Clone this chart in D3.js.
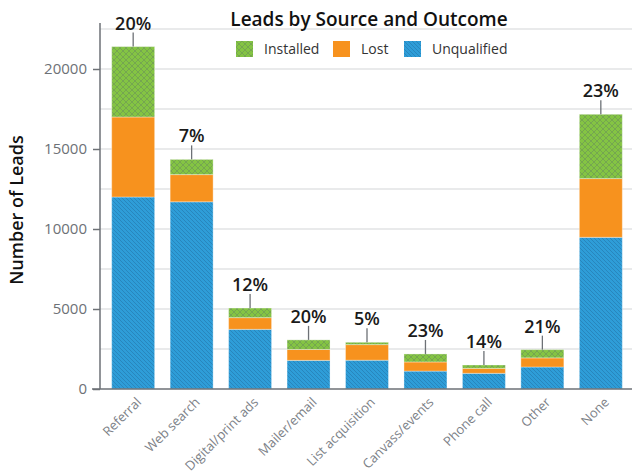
<!DOCTYPE html>
<html>
<head>
<meta charset="utf-8">
<script src="https://cdn.jsdelivr.net/npm/d3@7"></script>
<style>
  body { margin: 0; background: #fff; }
  svg { display: block; font-family: 'Open Sans', sans-serif; }
</style>
</head>
<body>
<svg id="chart" width="635" height="473"></svg>
<script>
const categories = ['Referral', 'Web search', 'Digital/print ads', 'Mailer/email', 'List acquisition', 'Canvass/events', 'Phone call', 'Other', 'None']
const unqualified = [12000, 11700, 3730, 1790, 1800, 1120, 980, 1375, 9480]
const lost = [5000, 1700, 730, 680, 975, 570, 310, 570, 3670]
const installed = [4400, 950, 600, 600, 145, 500, 210, 515, 4020]
const pctLabels = ['20%', '7%', '12%', '20%', '5%', '23%', '14%', '21%', '23%']
const yTicks = [0, 5000, 10000, 15000, 20000]
const gridTicks = [2500, 5000, 7500, 10000, 12500, 15000, 17500, 20000, 22500]

const seriesKeys = ['unqualified', 'lost', 'installed']
const legendItems = [
  { key: 'installed', label: 'Installed' },
  { key: 'lost', label: 'Lost' },
  { key: 'unqualified', label: 'Unqualified' }
]

const rows = categories.map((c, i) => ({
  category: c,
  unqualified: unqualified[i],
  lost: lost[i],
  installed: installed[i],
  pct: pctLabels[i]
}))

const svg = d3.select('#chart')

// パターン定義
const defs = svg.append('defs')
const pGreen = defs.append('pattern')
  .attr('id', 'pat-installed')
  .attr('patternUnits', 'userSpaceOnUse')
  .attr('width', 6).attr('height', 6)
pGreen.append('rect').attr('width', 6).attr('height', 6).attr('fill', '#84c443')
pGreen.append('path')
  .attr('d', 'M0,0L6,6M6,0L0,6')
  .attr('stroke', '#6f9a55').attr('stroke-width', 0.9).attr('stroke-opacity', 0.8)

const pBlue = defs.append('pattern')
  .attr('id', 'pat-unqualified')
  .attr('patternUnits', 'userSpaceOnUse')
  .attr('width', 4).attr('height', 4)
pBlue.append('rect').attr('width', 4).attr('height', 4).attr('fill', '#2e9dd8')
pBlue.append('path')
  .attr('d', 'M-1,-1L5,5M-1,3L1,5M3,-1L5,1')
  .attr('stroke', '#2886bd').attr('stroke-width', 1)

const FILLS = {
  installed: 'url(#pat-installed)',
  lost: '#f7921e',
  unqualified: 'url(#pat-unqualified)'
}

const x = d3.scaleBand()
  .domain(categories)
  .range([100, 634])
  .paddingInner(0.265)
  .paddingOuter(0.2)

const y = d3.scaleLinear()
  .domain([0, 20000])
  .range([389, 69])

// グリッド線
svg.append('g')
  .selectAll('line')
  .data(gridTicks)
  .enter()
  .append('line')
  .attr('x1', 100).attr('x2', 632)
  .attr('y1', d => y(d)).attr('y2', d => y(d))
  .attr('stroke', '#e2e3e5')
  .attr('stroke-width', 1.3)

// 積み上げ棒
const stacked = d3.stack().keys(seriesKeys)(rows)
svg.append('g')
  .selectAll('g')
  .data(stacked)
  .enter()
  .append('g')
  .attr('fill', d => FILLS[d.key])
  .selectAll('rect')
  .data(d => d)
  .enter()
  .append('rect')
  .attr('x', d => x(d.data.category))
  .attr('width', x.bandwidth())
  .attr('y', d => y(d[1]))
  .attr('height', d => y(d[0]) - y(d[1]))
  .attr('stroke', 'rgba(255,255,255,0.35)')
  .attr('stroke-width', 1)

// Y軸
const yAxis = svg.append('g')
  .attr('transform', 'translate(100,0)')
  .call(d3.axisLeft(y).tickValues(yTicks).tickFormat(d3.format('d')).tickSize(7).tickPadding(6).tickSizeOuter(0))
yAxis.select('.domain').remove()
yAxis.selectAll('line').attr('stroke', '#6d7176').attr('stroke-width', 1.5)
yAxis.selectAll('text')
  .attr('font-size', 15)
  .attr('fill', '#6d7176')
  .attr('font-family', "'Open Sans', sans-serif")

svg.append('line')
  .attr('x1', 100).attr('x2', 100)
  .attr('y1', 23).attr('y2', 389)
  .attr('stroke', '#6d7176').attr('stroke-width', 1.5)

// X軸
svg.append('line')
  .attr('x1', 92).attr('x2', 632)
  .attr('y1', 389).attr('y2', 389)
  .attr('stroke', '#6d7176').attr('stroke-width', 1.5)

svg.append('g')
  .selectAll('text')
  .data(categories)
  .enter()
  .append('text')
  .attr('transform', d => `translate(${x(d) + x.bandwidth() / 2 + 9},${403}) rotate(-45)`)
  .attr('text-anchor', 'end')
  .attr('font-size', 13)
  .attr('fill', '#7c8187')
  .text(d => d)

// パーセントラベル
const totals = rows.map(r => ({ category: r.category, total: r.unqualified + r.lost + r.installed, pct: r.pct }))
const lbl = svg.append('g').selectAll('g').data(totals).enter().append('g')
lbl.append('line')
  .attr('x1', d => x(d.category) + x.bandwidth() / 2)
  .attr('x2', d => x(d.category) + x.bandwidth() / 2)
  .attr('y1', d => y(d.total) - 14)
  .attr('y2', d => y(d.total))
  .attr('stroke', '#6d7176').attr('stroke-width', 1.3)
lbl.append('text')
  .attr('x', d => x(d.category) + x.bandwidth() / 2)
  .attr('y', d => y(d.total) - 17)
  .attr('text-anchor', 'middle')
  .attr('font-size', 18)
  .attr('font-weight', 600)
  .attr('fill', '#1a1a1a')
  .text(d => d.pct)

// タイトル
svg.append('text')
  .attr('x', 369).attr('y', 26)
  .attr('text-anchor', 'middle')
  .attr('font-size', 19)
  .attr('font-weight', 600)
  .attr('fill', '#111')
  .text('Leads by Source and Outcome')

// 凡例
const legendX = [236, 333, 404]
const leg = svg.append('g').selectAll('g').data(legendItems).enter().append('g')
  .attr('transform', (d, i) => `translate(${legendX[i]},41)`)
leg.append('rect')
  .attr('width', 17).attr('height', 16)
  .attr('fill', d => FILLS[d.key])
leg.append('text')
  .attr('x', 28).attr('y', 13)
  .attr('font-size', 14)
  .attr('fill', '#333')
  .text(d => d.label)

// Y軸ラベル
svg.append('text')
  .attr('transform', 'translate(23,210) rotate(-90)')
  .attr('text-anchor', 'middle')
  .attr('font-size', 18)
  .attr('font-weight', 600)
  .attr('fill', '#111')
  .text('Number of Leads')
</script>
</body>
</html>
